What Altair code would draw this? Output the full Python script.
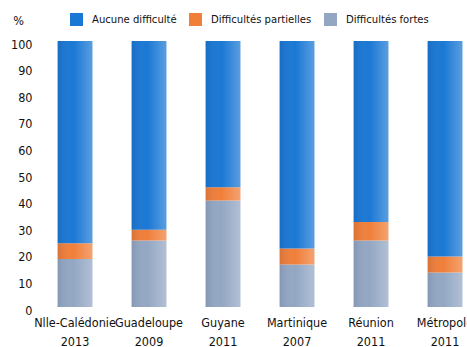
import altair as alt
import pandas as pd

# Territories and survey years
territoires = ["Nlle-Calédonie", "Guadeloupe", "Guyane", "Martinique", "Réunion", "Métropole"]
annees = ["2013", "2009", "2011", "2007", "2011", "2011"]

# Shares of the population (%) by level of difficulty
fortes = [18, 25, 40, 16, 25, 13]
partielles = [6, 4, 5, 6, 7, 6]
aucune = [100 - f - p for f, p in zip(fortes, partielles)]

series = ["Aucune difficulté", "Difficultés partielles", "Difficultés fortes"]
couleurs = ["#1a78d4", "#f07f3a", "#93a7c3"]
y_ticks = [0, 10, 20, 30, 40, 50, 60, 70, 80, 90, 100]

labels = [f"{t}\n{a}" for t, a in zip(territoires, annees)]

rows = []
for i, lab in enumerate(labels):
    rows.append({"lieu": lab, "serie": series[2], "ordre": 0, "valeur": fortes[i]})
    rows.append({"lieu": lab, "serie": series[1], "ordre": 1, "valeur": partielles[i]})
    rows.append({"lieu": lab, "serie": series[0], "ordre": 2, "valeur": aucune[i]})
df = pd.DataFrame(rows)

totaux = pd.DataFrame({"lieu": labels,
                       "total": [a + p + f for a, p, f in zip(aucune, partielles, fortes)]})

FONT = "DejaVu Sans Condensed"
FS = 12.5

x_scale = alt.Scale(range=[0, 444], paddingInner=0.53, paddingOuter=0.265)
x_axis = alt.Axis(
    title=None, labelAngle=0, ticks=False, domain=False,
    labelExpr="split(datum.label, '\\n')",
    labelFont=FONT, labelFontSize=FS, labelColor="#111111",
    labelPadding=9, labelLineHeight=19, labelOverlap=False,
)

y_scale = alt.Scale(domain=[0, 100], nice=False)
y_axis = alt.Axis(
    values=y_ticks, grid=False, ticks=False, domain=False,
    labelOverlap=False, labelFlush=False,
    labelFont=FONT, labelFontSize=FS, labelColor="#111111",
    labelPadding=6, labelOffset=3,
    title="%", titleAngle=0, titleFont=FONT, titleFontSize=FS,
    titleFontWeight="normal", titleColor="#111111",
    titleX=-20, titleY=-21, titleAlign="center", titleBaseline="middle",
)

bars = alt.Chart(df).mark_bar().encode(
    x=alt.X("lieu:N", sort=labels, scale=x_scale, axis=x_axis),
    y=alt.Y("valeur:Q", stack="zero", scale=y_scale, axis=y_axis),
    color=alt.Color(
        "serie:N",
        scale=alt.Scale(domain=series, range=couleurs),
        legend=alt.Legend(
            title=None, orient="none", direction="horizontal",
            legendX=32, legendY=-28, padding=0,
            symbolType="square", symbolSize=169, symbolStrokeWidth=0,
            symbolOpacity=1,
            labelFont=FONT, labelFontSize=11.2, labelColor="#111111",
            labelOffset=9, columnPadding=12,
        ),
    ),
    order=alt.Order("ordre:Q"),
)

# Soft horizontal sheen over each column
sheen = alt.Chart(totaux).mark_bar(
    color=alt.Gradient(
        gradient="linear", x1=0, x2=1, y1=0, y2=0,
        stops=[
            alt.GradientStop(color="rgba(0,0,40,0.10)", offset=0),
            alt.GradientStop(color="rgba(255,255,255,0)", offset=0.45),
            alt.GradientStop(color="rgba(255,255,255,0.28)", offset=1),
        ],
    )
).encode(
    x=alt.X("lieu:N", sort=labels, scale=x_scale, axis=x_axis),
    y=alt.Y("total:Q", scale=y_scale, axis=y_axis),
)

chart = (
    alt.layer(bars, sheen)
    .properties(
        width=429, height=266,
        padding={"left": 38, "top": 41, "right": 0, "bottom": 40},
        autosize=alt.AutoSizeParams(type="none"),
        background="white",
    )
    .configure_view(stroke=None)
)

chart.save("out.html", embed_options={"renderer": "svg", "actions": False})
